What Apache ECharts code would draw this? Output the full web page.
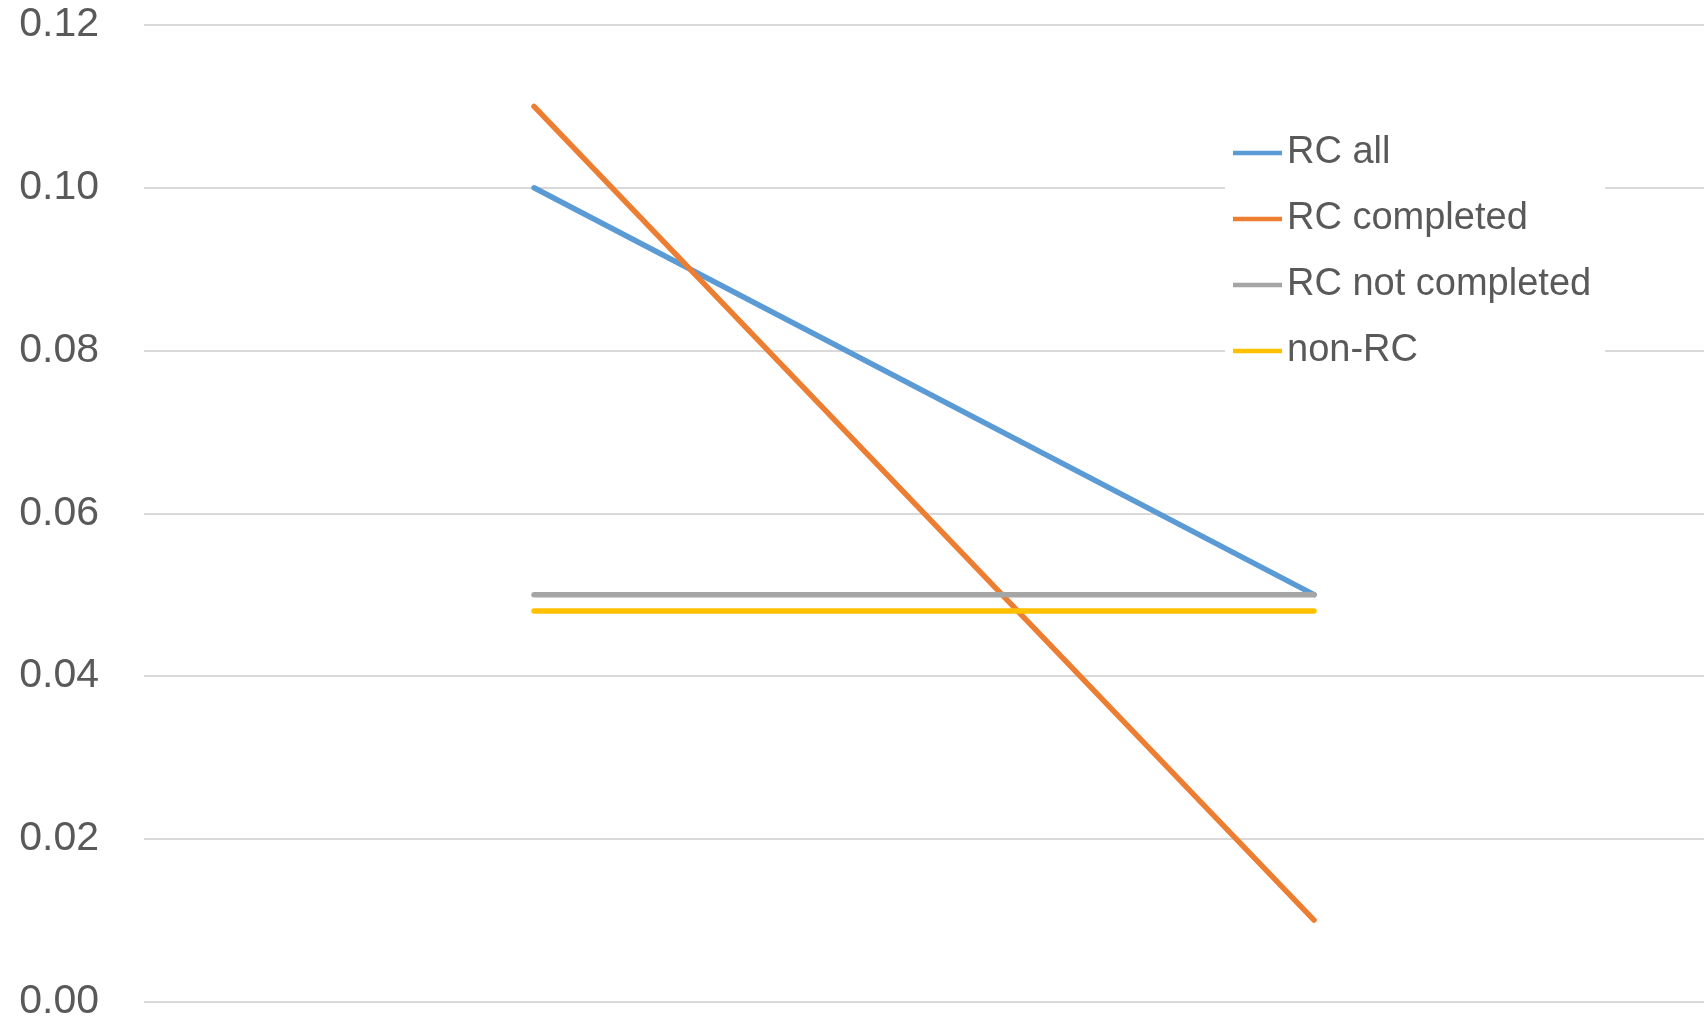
<!DOCTYPE html>
<html>
<head>
<meta charset="utf-8">
<script src="https://cdn.jsdelivr.net/npm/echarts@6/dist/echarts.min.js"></script>
<style>
  html, body { margin: 0; padding: 0; background: #fff; }
  #chart { width: 1704px; height: 1022px; }
</style>
</head>
<body>
<div id="chart"></div>
<script>
// Two time points, four groups
const categories = ['Before', 'After'];
const rcAll = [0.10, 0.05];
const rcCompleted = [0.11, 0.01];
const rcNotCompleted = [0.05, 0.05];
const nonRc = [0.048, 0.048];
const yTicks = { min: 0, max: 0.12, interval: 0.02 };

const FONT = '"Liberation Sans", Arial, sans-serif';
const TEXT = '#595959';

function lineSeries(name, data, color) {
  return {
    name, type: 'line', data,
    symbol: 'none',
    lineStyle: { color, width: 5.5, cap: 'round' },
    itemStyle: { color },
    emphasis: { disabled: true }
  };
}

const chart = echarts.init(document.getElementById('chart'), null, { renderer: 'canvas' });
chart.setOption({
  animation: false,
  backgroundColor: '#fff',
  // plot area runs slightly past the right edge of the canvas
  grid: { left: 144, width: 1570, top: 25, bottom: 19, containLabel: false },
  xAxis: {
    type: 'category',
    data: categories,
    boundaryGap: true,
    axisLine: { show: false },
    axisTick: { show: false },
    axisLabel: { show: false },
    splitLine: { show: false }
  },
  yAxis: {
    type: 'value',
    min: yTicks.min, max: yTicks.max, interval: yTicks.interval,
    axisLine: { show: false },
    axisTick: { show: false },
    axisLabel: {
      formatter: v => v.toFixed(2),
      color: TEXT, fontFamily: FONT, fontSize: 41, margin: 45
    },
    splitLine: { lineStyle: { color: '#d9d9d9', width: 2 } }
  },
  legend: {
    orient: 'vertical',
    left: 1225, top: 123,
    padding: [10, 14, 10, 8],
    backgroundColor: '#fff',
    icon: 'rect',
    itemWidth: 49, itemHeight: 4.5, itemGap: 26,
    textStyle: { color: TEXT, fontFamily: FONT, fontSize: 38, lineHeight: 40, padding: [0, 0, 0, 0] },
    data: ['RC all', 'RC completed', 'RC not completed', 'non-RC']
  },
  series: [
    lineSeries('RC all', rcAll, '#5b9bd5'),
    lineSeries('RC completed', rcCompleted, '#ed7d31'),
    lineSeries('RC not completed', rcNotCompleted, '#a5a5a5'),
    lineSeries('non-RC', nonRc, '#ffc000')
  ]
});
</script>
</body>
</html>
